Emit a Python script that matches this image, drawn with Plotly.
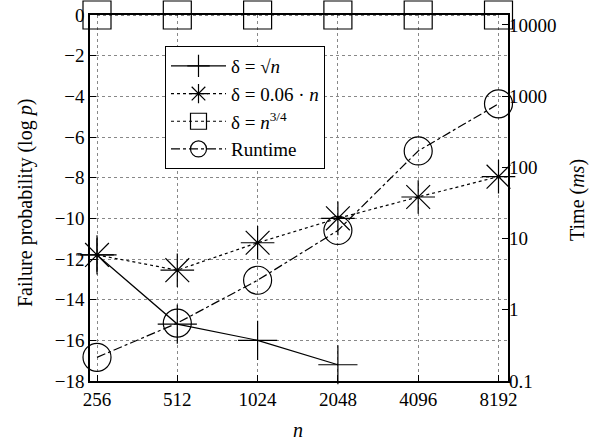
import plotly.graph_objects as go

n_vals = [256, 512, 1024, 2048, 4096, 8192]
tick_labels = ["256", "512", "1024", "2048", "4096", "8192"]

sqrt_n = [-11.8, -15.2, -16.0, -17.2]          # delta = sqrt(n), only first four n
lin_n = [-11.8, -12.55, -11.2, -10.0, -8.95, -7.95]  # delta = 0.06 n
pow34 = [0, 0, 0, 0, 0, 0]                     # delta = n^(3/4)
runtime = [0.215, 0.65, 2.6, 13, 170, 780]     # ms

y2_ticks = [0.1, 1, 10, 100, 1000, 10000]
y2_labels = ["0.1", "1", "10", "100", "1000", "10000"]

FONT = "Liberation Serif"
MS = 28
W, H = 598, 442
# target plot area in page pixels: x 90..508, y 15..381
L, T = 90, 15
R, B = W - 508, H - 381
PW, PH = W - L - R, H - T - B

fig = go.Figure()
fig.add_trace(go.Scatter(x=n_vals[:len(sqrt_n)], y=sqrt_n, name="δ = √<i>n</i>",
                         mode="lines+markers", cliponaxis=False,
                         line=dict(color="black", width=1.2, dash="solid"),
                         marker=dict(symbol="cross-thin-open", size=MS, line=dict(color="black", width=1.2))))
fig.add_trace(go.Scatter(x=n_vals, y=lin_n, name="δ = 0.06 · <i>n</i>",
                         mode="lines+markers", cliponaxis=False,
                         line=dict(color="black", width=1.2, dash="dot"),
                         marker=dict(symbol="asterisk-open", size=MS, line=dict(color="black", width=1.2))))
fig.add_trace(go.Scatter(x=n_vals, y=pow34, name="δ = <i>n</i><sup>3/4</sup>",
                         mode="lines+markers", cliponaxis=False,
                         line=dict(color="black", width=1.2, dash="dot"),
                         marker=dict(symbol="square-open", size=MS, line=dict(color="black", width=1.2))))
fig.add_trace(go.Scatter(x=n_vals, y=runtime, name="Runtime", yaxis="y2",
                         mode="lines+markers", cliponaxis=False,
                         line=dict(color="black", width=1.2, dash="dashdot"),
                         marker=dict(symbol="circle-open", size=MS, line=dict(color="black", width=1.2))))

def px_x(x):
    return (x - L) / PW

def px_y(y):
    return 1 - (y - T) / PH

fig.update_layout(
    width=W, height=H,
    margin=dict(l=L, r=R, t=T, b=B, autoexpand=False),
    paper_bgcolor="white", plot_bgcolor="white",
    font=dict(family=FONT, size=19, color="black"),
    showlegend=True,
    legend=dict(x=px_x(165), y=px_y(46), xanchor="left", yanchor="top",
                bgcolor="white", bordercolor="black", borderwidth=1,
                font=dict(family=FONT, size=19), itemsizing="trace", itemwidth=55),
    xaxis=dict(type="log", range=[2.382, 3.949], tickvals=n_vals, ticktext=tick_labels,
               showgrid=True, gridcolor="#888", griddash="dot", gridwidth=1,
               showline=True, linecolor="black", linewidth=1.5, mirror=True,
               ticks="inside", ticklen=6, tickcolor="black", automargin=False,
               zeroline=False),
    yaxis=dict(range=[-18, 0], dtick=2, tick0=0,
               showgrid=True, gridcolor="#888", griddash="dot", gridwidth=1,
               showline=True, linecolor="black", linewidth=1.5, mirror=True,
               ticks="inside", ticklen=6, tickcolor="black", zeroline=False,
               automargin=False),
    yaxis2=dict(type="log", range=[-1, 4.14], overlaying="y", side="right",
                tickvals=y2_ticks, ticktext=y2_labels, showgrid=False,
                ticks="inside", ticklen=6, tickcolor="black", zeroline=False,
                automargin=False),
    annotations=[
        dict(text="Failure probability (log <i>p</i>)", xref="paper", yref="paper",
             x=px_x(25), y=px_y(203), textangle=-90, showarrow=False,
             xanchor="center", yanchor="middle", font=dict(size=20)),
        dict(text="Time (<i>ms</i>)", xref="paper", yref="paper",
             x=px_x(577), y=px_y(200), textangle=-90, showarrow=False,
             xanchor="center", yanchor="middle", font=dict(size=20)),
        dict(text="<i>n</i>", xref="paper", yref="paper",
             x=px_x(298), y=px_y(430), showarrow=False,
             xanchor="center", yanchor="middle", font=dict(size=20)),
    ],
)

fig.write_html("out.html", config={"displayModeBar": False},
               post_script="document.body.style.margin='0px';document.body.style.overflow='hidden';")
